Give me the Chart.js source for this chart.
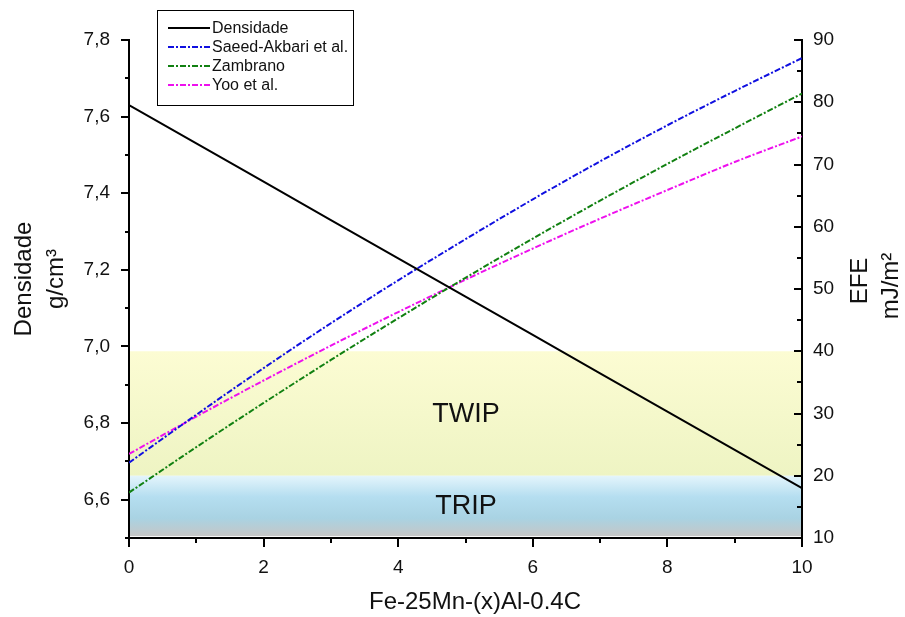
<!DOCTYPE html>
<html>
<head>
<meta charset="utf-8">
<script src="https://cdn.jsdelivr.net/npm/chart.js@4"></script>
<style>
  body { margin: 0; background: #fff; }
  canvas { display: block; }
</style>
</head>
<body>
<canvas id="chart" width="905" height="617"></canvas>
<script>
// data
const alContent = [0, 1, 2, 3, 4, 5, 6, 7, 8, 9, 10];
const densidade = [7.63, 7.53, 7.43, 7.33, 7.23, 7.13, 7.03, 6.93, 6.83, 6.73, 6.63];
const saeedAkbari = [22.1, 29.8, 37.3, 44.5, 51.4, 58.0, 64.4, 70.5, 76.3, 81.8, 87.1];
const zambrano = [17.3, 24.6, 31.7, 38.6, 45.3, 51.8, 58.1, 64.2, 70.1, 75.8, 81.4];
const yoo = [23.5, 29.5, 35.3, 40.9, 46.3, 51.5, 56.5, 61.3, 65.9, 70.4, 74.5];

const densTicks = [6.5, 6.6, 6.7, 6.8, 6.9, 7.0, 7.1, 7.2, 7.3, 7.4, 7.5, 7.6, 7.7, 7.8];
const densLabels = ['6,6', '6,8', '7,0', '7,2', '7,4', '7,6', '7,8'];
const efeTicks = [10, 15, 20, 25, 30, 35, 40, 45, 50, 55, 60, 65, 70, 75, 80, 85, 90];
const efeLabels = ['10', '20', '30', '40', '50', '60', '70', '80', '90'];
const xTicks = [0, 1, 2, 3, 4, 5, 6, 7, 8, 9, 10];
const xLabels = ['0', '2', '4', '6', '8', '10'];

const bandNames = ['TWIP', 'TRIP'];
const bandTop = [40, 20];
const bandBottom = [20, 10.3];

const FONT = '"Liberation Sans", Arial, sans-serif';

function fmt(v) {
    return v.toFixed(1).replace('.', ',');
}

function pts(ys) {
    return alContent.map((x, i) => ({ x: x, y: ys[i] }));
}

// shaded TWIP / TRIP regions
const bandsPlugin = {
    id: 'bands',
    beforeDatasetsDraw(chart) {
        const { ctx, chartArea } = chart;
        const y2 = chart.scales.y2;
        const left = chartArea.left + 1;
        const w = chartArea.right - chartArea.left - 2;
        ctx.save();
        bandNames.forEach((name, i) => {
            const top = y2.getPixelForValue(bandTop[i]);
            const bot = y2.getPixelForValue(bandBottom[i]);
            const g = ctx.createLinearGradient(0, top, 0, bot);
            if (i === 0) {
                g.addColorStop(0, '#fcfcd3');
                g.addColorStop(1, '#eef4c3');
            } else {
                g.addColorStop(0, '#e4f5fc');
                g.addColorStop(0.35, '#b5def0');
                g.addColorStop(0.7, '#a9d3e3');
                g.addColorStop(1, '#c6c6c6');
            }
            ctx.fillStyle = g;
            ctx.fillRect(left, top, w, bot - top);
            ctx.fillStyle = '#111';
            ctx.font = '27px ' + FONT;
            ctx.textAlign = 'center';
            ctx.textBaseline = 'middle';
            ctx.fillText(name, 466, (top + bot) / 2 + 1);
        });
        ctx.restore();
    }
};

// tick marks with major / minor lengths
const ticksPlugin = {
    id: 'tickMarks',
    afterDraw(chart) {
        const { ctx, chartArea, scales } = chart;
        ctx.save();
        ctx.strokeStyle = '#000';
        ctx.lineWidth = 2;
        ctx.beginPath();
        densTicks.forEach(v => {
            const y = Math.round(scales.y.getPixelForValue(v));
            const major = densLabels.includes(fmt(v));
            ctx.moveTo(chartArea.left, y);
            ctx.lineTo(chartArea.left - (major ? 8 : 4), y);
        });
        efeTicks.forEach(v => {
            const y = Math.round(scales.y2.getPixelForValue(v));
            const major = efeLabels.includes(String(v));
            ctx.moveTo(chartArea.right, y);
            ctx.lineTo(chartArea.right - (major ? 8 : 5), y);
        });
        xTicks.forEach(v => {
            const x = Math.round(scales.x.getPixelForValue(v));
            const major = xLabels.includes(String(v));
            ctx.moveTo(x, chartArea.bottom);
            ctx.lineTo(x, chartArea.bottom + (major ? 9 : 5));
        });
        ctx.stroke();
        ctx.restore();
    }
};

// axis titles and boxed legend
const textPlugin = {
    id: 'texts',
    afterDraw(chart) {
        const { ctx } = chart;
        ctx.save();
        ctx.fillStyle = '#111';
        ctx.textAlign = 'center';
        ctx.textBaseline = 'middle';
        ctx.font = '24px ' + FONT;
        ctx.fillText('Fe-25Mn-(x)Al-0.4C', 475, 602);

        const rot = (txt, x, y) => {
            ctx.save();
            ctx.translate(x, y);
            ctx.rotate(-Math.PI / 2);
            ctx.fillText(txt, 0, 0);
            ctx.restore();
        };
        rot('Densidade', 24, 279);
        rot('g/cm³', 56, 279);
        rot('EFE', 860, 281);
        rot('mJ/m²', 891, 286);

        // legend
        ctx.fillStyle = '#fff';
        ctx.fillRect(157, 10, 196, 95);
        ctx.strokeStyle = '#000';
        ctx.lineWidth = 1;
        ctx.strokeRect(157.5, 10.5, 196, 95);
        const rows = [28, 47, 66, 85];
        ctx.font = '16px ' + FONT;
        ctx.textAlign = 'left';
        chart.data.datasets.forEach((ds, i) => {
            const y = rows[i];
            ctx.strokeStyle = ds.borderColor;
            ctx.lineWidth = ds.borderWidth;
            ctx.setLineDash(ds.borderDash || []);
            ctx.beginPath();
            ctx.moveTo(168, y);
            ctx.lineTo(210, y);
            ctx.stroke();
            ctx.setLineDash([]);
            ctx.fillStyle = '#111';
            ctx.fillText(ds.label, 212, y + 1);
        });
        ctx.restore();
    }
};

const dashDot = [6, 2, 2, 2];

new Chart(document.getElementById('chart').getContext('2d'), {
    type: 'line',
    data: {
        datasets: [{
            label: 'Densidade',
            data: pts(densidade),
            yAxisID: 'y',
            borderColor: '#000000',
            borderWidth: 2,
            pointRadius: 0
        }, {
            label: 'Saeed-Akbari et al.',
            data: pts(saeedAkbari),
            yAxisID: 'y2',
            borderColor: '#1010e0',
            borderWidth: 2,
            borderDash: dashDot,
            cubicInterpolationMode: 'monotone',
            pointRadius: 0
        }, {
            label: 'Zambrano',
            data: pts(zambrano),
            yAxisID: 'y2',
            borderColor: '#118011',
            borderWidth: 2,
            borderDash: dashDot,
            cubicInterpolationMode: 'monotone',
            pointRadius: 0
        }, {
            label: 'Yoo et al.',
            data: pts(yoo),
            yAxisID: 'y2',
            borderColor: '#ee10ee',
            borderWidth: 2,
            borderDash: dashDot,
            cubicInterpolationMode: 'monotone',
            pointRadius: 0
        }]
    },
    options: {
        responsive: false,
        animation: false,
        devicePixelRatio: 1,
        layout: { padding: { top: 40, left: 0, right: 0, bottom: 0 } },
        plugins: {
            legend: { display: false },
            tooltip: { enabled: false }
        },
        scales: {
            x: {
                type: 'linear',
                position: 'bottom',
                min: 0,
                max: 10,
                afterFit: s => { s.height = 79; },
                afterBuildTicks: s => { s.ticks = xTicks.map(v => ({ value: v })); },
                ticks: {
                    autoSkip: false,
                    maxRotation: 0,
                    padding: 10,
                    color: '#111',
                    font: { family: FONT, size: 19 },
                    callback: v => xLabels.includes(String(v)) ? String(v) : ''
                },
                grid: { display: true, drawOnChartArea: false, tickLength: 8, tickColor: 'rgba(0,0,0,0)' },
                border: { display: true, color: '#000', width: 2 }
            },
            y: {
                type: 'linear',
                position: 'left',
                min: 6.5,
                max: 7.8,
                afterFit: s => { s.width = 129; },
                afterBuildTicks: s => { s.ticks = densTicks.map(v => ({ value: v })); },
                ticks: {
                    autoSkip: false,
                    padding: 11,
                    color: '#111',
                    font: { family: FONT, size: 19 },
                    callback: v => densLabels.includes(fmt(v)) ? fmt(v) : ''
                },
                grid: { display: true, drawOnChartArea: false, tickLength: 8, tickColor: 'rgba(0,0,0,0)' },
                border: { display: true, color: '#000', width: 2 }
            },
            y2: {
                type: 'linear',
                position: 'right',
                min: 10,
                max: 90,
                afterFit: s => { s.width = 103; },
                afterBuildTicks: s => { s.ticks = efeTicks.map(v => ({ value: v })); },
                ticks: {
                    autoSkip: false,
                    padding: 11,
                    color: '#111',
                    font: { family: FONT, size: 19 },
                    callback: v => efeLabels.includes(String(v)) ? String(v) : ''
                },
                grid: { display: true, drawOnChartArea: false, drawTicks: false },
                border: { display: true, color: '#000', width: 2 }
            }
        }
    },
    plugins: [bandsPlugin, ticksPlugin, textPlugin]
});
</script>
</body>
</html>
